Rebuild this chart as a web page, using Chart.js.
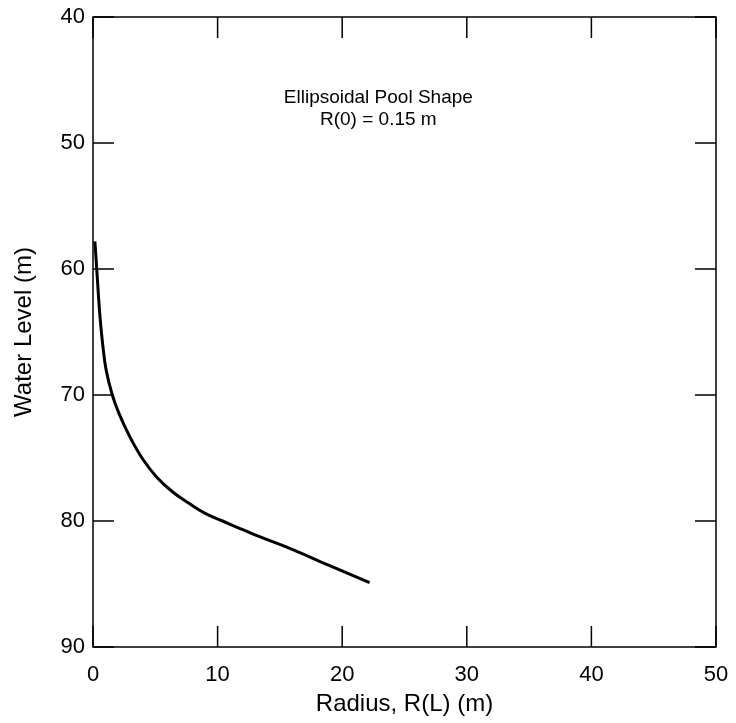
<!DOCTYPE html>
<html>
<head>
<meta charset="utf-8">
<script src="https://cdn.jsdelivr.net/npm/chart.js@4.4.1/dist/chart.umd.min.js"></script>
<style>
  html, body { margin: 0; padding: 0; background: #fff; }
  #wrap { width: 736px; height: 723px; }
</style>
</head>
<body>
<div id="wrap"><canvas id="chart"></canvas></div>
<script>
// ── Data ─────────────────────────────────────────────
const radius = [0.15, 0.3, 0.43, 0.58, 0.78, 1.05, 1.55, 2.1, 2.95, 4.0, 5.1, 6.4, 7.7, 9.0, 10.4, 11.8, 13.0, 14.3, 15.6, 18.9, 22.2]
const level  = [57.8, 60.0, 62.0, 64.0, 66.0, 68.0, 70.0, 71.5, 73.3, 75.1, 76.5, 77.7, 78.6, 79.4, 80.0, 80.6, 81.1, 81.6, 82.1, 83.5, 84.9]
const noteLines = ['Ellipsoidal Pool Shape', 'R(0) = 0.15 m']
const notePos   = { x: 22.9, y: 46.4 }

const FONT = 'Arial, "Liberation Sans", sans-serif'
const TICK_LEN = 21

// frame + inward tick marks on all four sides, plus the note
const framePlugin = {
  id: 'frame',
  afterDraw(chart) {
    const { ctx, chartArea: a, scales: { x, y } } = chart
    ctx.save()
    ctx.strokeStyle = '#000'
    ctx.lineWidth = 1.5
    ctx.strokeRect(a.left, a.top, a.right - a.left, a.bottom - a.top)
    ctx.beginPath()
    x.ticks.forEach(t => {
      const px = x.getPixelForValue(t.value)
      ctx.moveTo(px, a.bottom); ctx.lineTo(px, a.bottom - TICK_LEN)
      ctx.moveTo(px, a.top);    ctx.lineTo(px, a.top + TICK_LEN)
    })
    y.ticks.forEach(t => {
      const py = y.getPixelForValue(t.value)
      ctx.moveTo(a.left, py);  ctx.lineTo(a.left + TICK_LEN, py)
      ctx.moveTo(a.right, py); ctx.lineTo(a.right - TICK_LEN, py)
    })
    ctx.stroke()

    ctx.fillStyle = '#000'
    ctx.font = '19px ' + FONT
    ctx.textAlign = 'center'
    ctx.textBaseline = 'middle'
    const cx = x.getPixelForValue(notePos.x)
    const cy = y.getPixelForValue(notePos.y)
    noteLines.forEach((s, i) => ctx.fillText(s, cx, cy + i * 22))
    ctx.restore()
  },
}

// drop the label-overflow padding so layout.padding alone sets the plot box
function noOverflow(s) {
  s.paddingLeft = s.paddingRight = s.paddingTop = s.paddingBottom = 0
}

new Chart(document.getElementById('chart'), {
  type: 'scatter',
  data: {
    datasets: [{
      data: radius.map((r, i) => ({ x: r, y: level[i] })),
      showLine: true,
      borderColor: '#000',
      borderWidth: 3,
      pointRadius: 0,
      tension: 0.4,
      fill: false,
    }],
  },
  options: {
    responsive: true,
    maintainAspectRatio: false,
    animation: false,
    layout: { padding: { top: 17, right: 20, left: 0, bottom: 0 } },
    plugins: { legend: { display: false }, tooltip: { enabled: false } },
    scales: {
      x: {
        type: 'linear',
        min: 0, max: 50,
        grid: { display: false, drawTicks: false },
        border: { display: false },
        ticks: { stepSize: 10, color: '#000', padding: 15, font: { family: FONT, size: 22 } },
        title: { display: true, text: 'Radius, R(L) (m)', color: '#000', padding: { top: 3 }, font: { family: FONT, size: 24 } },
        afterFit(s) { s.height = 76; noOverflow(s) },
      },
      y: {
        type: 'linear',
        min: 40, max: 90,
        reverse: true,
        grid: { display: false, drawTicks: false },
        border: { display: false },
        ticks: { stepSize: 10, color: '#000', padding: 8, font: { family: FONT, size: 22 } },
        title: { display: true, text: 'Water Level (m)', color: '#000', padding: { top: 10 }, font: { family: FONT, size: 24 } },
        afterFit(s) { s.width = 93; noOverflow(s) },
      },
    },
  },
  plugins: [framePlugin],
})
</script>
</body>
</html>
